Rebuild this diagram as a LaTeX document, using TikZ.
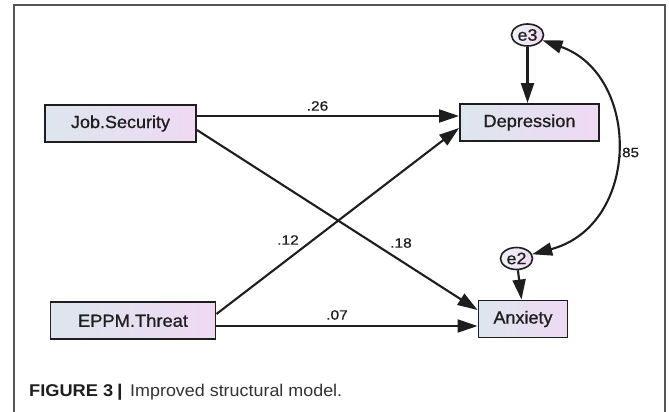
\documentclass[tikz,border=0pt]{standalone}
\usepackage{fontspec}
\setmainfont{Liberation Sans}
\newfontfamily\heavyfont[FakeBold=0.8]{Liberation Sans}
\newfontfamily\semifont[FakeBold=0.5]{Liberation Sans}
\usetikzlibrary{arrows.meta,shapes.geometric}
\definecolor{boxL}{HTML}{DDE6EE}
\definecolor{boxR}{HTML}{EFD9F3}
\definecolor{ink}{HTML}{1E1E1E}
\definecolor{framec}{HTML}{555555}
\newcommand{\fitw}[2]{\resizebox{#1}{\height}{#2}}
\tikzset{
  varbox/.style={rectangle, draw=ink, line width=1.9pt, left color=boxL, right color=boxR,
    minimum height=37pt, inner sep=0pt, text=ink, font=\heavyfont\fontsize{17.5}{18}\selectfont},
  errnode/.style={ellipse, draw=ink, line width=1.6pt, left color=boxL!50!white, right color=boxR,
    minimum width=32pt, minimum height=22pt, inner sep=0pt, text=ink, font=\heavyfont\fontsize{16.5}{18}\selectfont},
  path/.style={draw=ink, line width=2.1pt, -{Triangle[length=20pt,width=13pt]}},
  cov/.style={draw=ink, line width=2.1pt, {Triangle[length=20pt,width=13pt]}-{Triangle[length=20pt,width=13pt]}},
  coef/.style={text=ink, inner sep=0pt, font=\semifont\fontsize{13.5}{14}\selectfont},
  frameline/.style={draw=framec, line width=1.5pt}
}
\begin{document}
\begin{tikzpicture}[x=1pt,y=-1pt]
\useasboundingbox (0,0) rectangle (669,412);
\fill[white] (0,0) rectangle (669,412);
\draw[frameline] (14,412) -- (14,5) -- (665,5) -- (665,412);

\node[varbox, minimum width=151pt] (job) at (120.5,123.5) {\fitw{99pt}{Job.Security}};
\node[varbox, minimum width=165pt] (eppm) at (133,320.5) {\fitw{110pt}{EPPM.Threat}};
\node[varbox, minimum width=139pt] (dep) at (529.5,122.5) {\fitw{92pt}{Depression}};
\node[varbox, minimum width=89pt] (anx) at (523,319) {\fitw{59pt}{Anxiety}};
\node[errnode] (e3) at (527.5,35) {\fitw{20pt}{e3}};
\node[errnode] (e2) at (516.5,258.5) {\fitw{20pt}{e2}};

\draw[path] ([yshift=7.5pt]job.east) -- ([yshift=6.5pt]dep.west);
\draw[path] ([yshift=-6.5pt]job.east) -- ([yshift=9pt]anx.west);
\draw[path] ([yshift=6.5pt]eppm.east) -- ([yshift=-5.5pt]dep.west);
\draw[path] ([yshift=-5.5pt]eppm.east) -- ([yshift=-7pt]anx.west);
\draw[path] (e3) -- (e3 |- dep.north);
\draw[path] (e2) -- ([xshift=-1.5pt]anx.north);
\draw[cov] (e3) .. controls (641,75) and (641,225) .. (e2);

\node[coef] (c26) at (317.5,106) {\fitw{21.5pt}{.26}};
\node[coef] (c18) at (401,243) {\fitw{21.5pt}{.18}};
\node[coef] (c12) at (288,240) {\fitw{21.5pt}{.12}};
\node[coef] (c07) at (337,315) {\fitw{21.5pt}{.07}};
\node[coef] (c85) at (628.5,152.5) {\fitw{21pt}{.85}};

\node[anchor=base west, inner sep=0pt, text=ink, font=\bfseries\fontsize{17}{20}\selectfont] (capa) at (29,396)
  {\fitw{84pt}{FIGURE 3}};
\node[anchor=base west, inner sep=0pt, text=ink, font=\bfseries\fontsize{17}{20}\selectfont] (capb) at (117,396)
  {\fitw{5.5pt}{|}};
\node[anchor=base west, inner sep=0pt, text=black!80, font=\fontsize{17}{20}\selectfont] (capc) at (130,396)
  {\fitw{212pt}{Improved structural model.}};
\end{tikzpicture}
\end{document}
